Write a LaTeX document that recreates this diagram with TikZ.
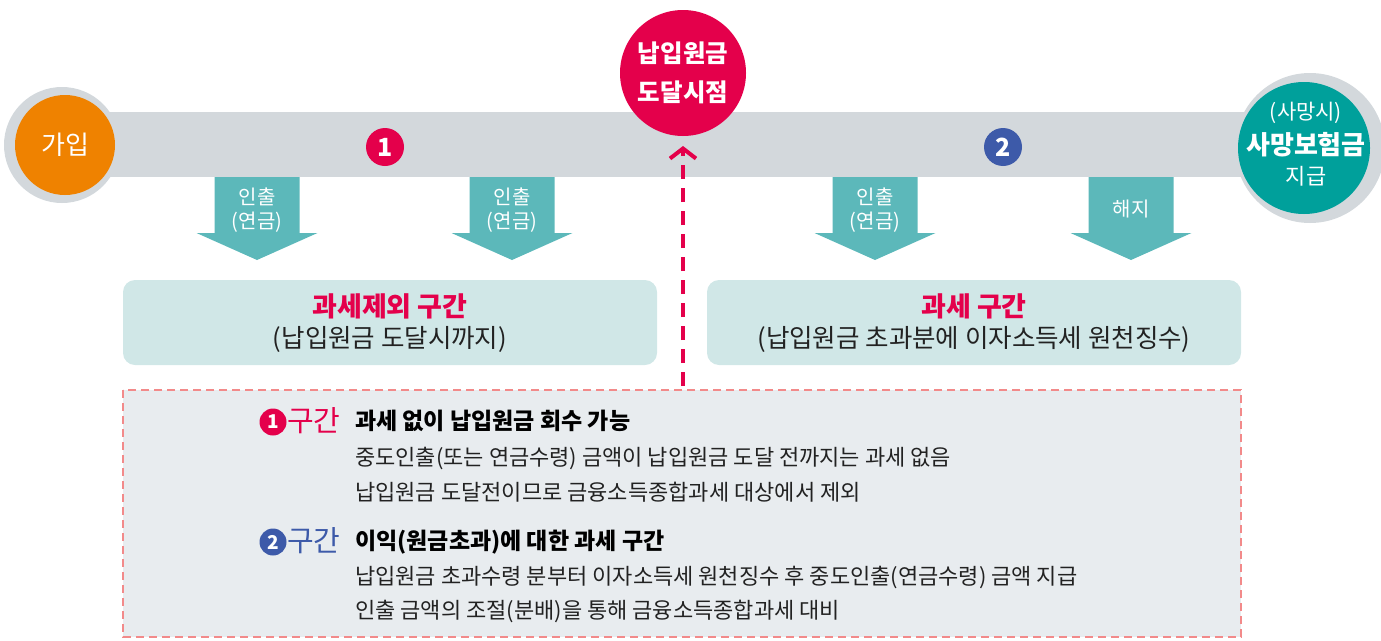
\documentclass[tikz,border=0pt]{standalone}
\usepackage{fontspec}
\setmainfont{Noto Sans CJK KR}
\usetikzlibrary{arrows.meta}
\definecolor{barGray}{HTML}{D3D8DC}
\definecolor{orangeC}{HTML}{EF8200}
\definecolor{redC}{HTML}{E4004B}
\definecolor{tealC}{HTML}{00A09B}
\definecolor{arrowTeal}{HTML}{5CB8BA}
\definecolor{boxTeal}{HTML}{D0E7E7}
\definecolor{panelGray}{HTML}{E8ECEF}
\definecolor{dashPink}{HTML}{F28A8A}
\definecolor{blueC}{HTML}{3D5AA9}
\definecolor{textDark}{HTML}{222222}
\newcommand{\fs}[1]{\fontsize{#1}{#1}\selectfont}
\newcommand{\downshape}[1]{%
  \fill[arrowTeal] ({#1-42.5},177) -- ({#1+42.5},177) -- ({#1+42.5},233) -- ({#1+60.5},233)
    -- (#1,260) -- ({#1-60.5},233) -- ({#1-42.5},233) -- cycle;}
\tikzset{
  ring/.style={circle, fill=barGray, inner sep=0pt},
  disc/.style={circle, inner sep=0pt, text=white},
  arrowlbl/.style={text=white, font=\fs{20}, inner sep=0pt},
  zonebox/.style={rounded corners=12pt, fill=boxTeal, minimum width=534pt, minimum height=85pt, inner sep=0pt},
  zonetitle/.style={text=redC, font=\bfseries\fs{27}, inner sep=0pt},
  zonesub/.style={text=textDark, font=\fs{25.5}, inner sep=0pt},
  marker/.style={circle, inner sep=0pt, text=white, font=\bfseries\fs{25}, minimum size=38pt},
  smallmarker/.style={circle, inner sep=0pt, text=white, font=\bfseries\fs{19}, minimum size=27pt},
  zonelbl/.style={font=\fs{29}, inner sep=0pt, anchor=west},
  head/.style={text=black, font=\bfseries\fs{23}, inner sep=0pt, anchor=west},
  body/.style={text=textDark, font=\fs{22}, inner sep=0pt, anchor=west},
}
\begin{document}
\begin{tikzpicture}[x=1pt,y=-1pt]
\useasboundingbox (0,0) rectangle (1381,640);
% timeline bar
\fill[barGray] (100,112) rectangle (1262,177);
% down arrows
\downshape{257}
\downshape{512}
\downshape{875}
\downshape{1131}
\node[arrowlbl] (a1t) at (257,197) {인출};
\node[arrowlbl] (a1b) at (257,222) {(연금)};
\node[arrowlbl] (a2t) at (512,197) {인출};
\node[arrowlbl] (a2b) at (512,222) {(연금)};
\node[arrowlbl] (a3t) at (875,197) {인출};
\node[arrowlbl] (a3b) at (875,222) {(연금)};
\node[arrowlbl] (a4) at (1131,209) {해지};
% join circle
\node[ring, minimum size=116pt] (joinring) at (62,145) {};
\node[disc, fill=orangeC, minimum size=100pt, font=\fs{26}] (join) at (65,145) {가입};
% reach circle
\node[disc, fill=redC, minimum size=126pt, font=\bfseries\fontsize{24.5}{39}\selectfont, align=center] (reach) at (683,73) {납입원금\\도달시점};
% death circle
\node[ring, minimum size=150pt] (deathring) at (1310,148) {};
\node[disc, fill=tealC, minimum size=132pt] (death) at (1304,148) {};
\node[text=white, font=\fs{21}, inner sep=0pt] (d1) at (1306,113) {(사망시)};
\node[text=white, font=\bfseries\fs{26}, inner sep=0pt] (d2) at (1306,145) {사망보험금};
\node[text=white, font=\fs{22}, inner sep=0pt] (d3) at (1306,176) {지급};
% number markers on bar
\node[marker, fill=redC] (m1) at (385,147) {1};
\node[marker, fill=blueC] (m2) at (1003,147) {2};
% zone boxes
\node[zonebox] (free) at (390,322.5) {};
\node[zonetitle] (freet) at (390,306) {과세제외 구간};
\node[zonesub] (frees) at (390,339) {(납입원금 도달시까지)};
\node[zonebox] (taxed) at (974,322.5) {};
\node[zonetitle] (taxedt) at (974,306) {과세 구간};
\node[zonesub] (taxeds) at (974,339) {(납입원금 초과분에 이자소득세 원천징수)};
% bottom panel
\draw[dashPink, line width=2.5pt, dash pattern=on 8pt off 5pt, fill=panelGray] (123,390) rectangle (1241,637);
% dashed pointer
\coordinate (dashstart) at (683,386);
\coordinate (dashtip) at (683,146);
\draw[redC, line width=4pt, dash pattern=on 14pt off 9pt, -{Straight Barb[length=10pt, width=26pt]}] (dashstart) -- (dashtip);
% panel contents
\node[smallmarker, fill=redC] (p1) at (273,422) {1};
\node[zonelbl, text=redC] (p1l) at (287,421) {구간};
\node[head] (h1) at (355,421) {과세 없이 납입원금 회수 가능};
\node[body] (b11) at (355,458) {중도인출(또는 연금수령) 금액이 납입원금 도달 전까지는 과세 없음};
\node[body] (b12) at (355,492) {납입원금 도달전이므로 금융소득종합과세 대상에서 제외};
\node[smallmarker, fill=blueC] (p2) at (273,542) {2};
\node[zonelbl, text=blueC] (p2l) at (287,541) {구간};
\node[head] (h2) at (355,542) {이익(원금초과)에 대한 과세 구간};
\node[body] (b21) at (355,577) {납입원금 초과수령 분부터 이자소득세 원천징수 후 중도인출(연금수령) 금액 지급};
\node[body] (b22) at (355,611) {인출 금액의 조절(분배)을 통해 금융소득종합과세 대비};
\end{tikzpicture}
\end{document}
